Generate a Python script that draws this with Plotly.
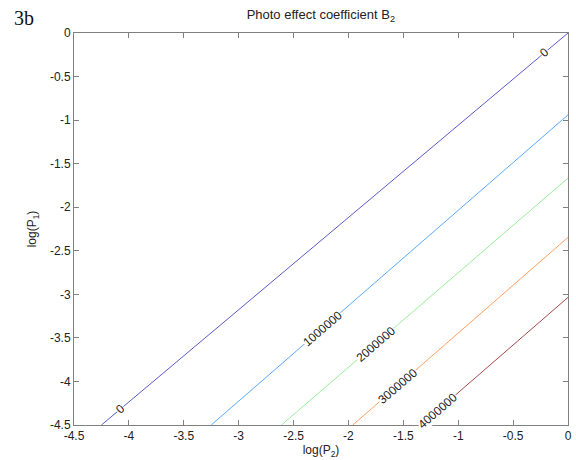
import plotly.graph_objects as go

# Contour levels and where each (straight) contour line meets the plot edges
levels = [0, 1000000, 2000000, 3000000, 4000000]
level_labels = ["0", "1000000", "2000000", "3000000", "4000000"]
x_at_bottom = [-4.25, -3.25, -2.61, -1.96, -1.34]   # x where line meets y = -4.5
y_at_right = [0.0, -0.94, -1.665, -2.346, -3.035]   # y where line meets x = 0
colors = ["#5a5ac8", "#5aaaff", "#99ee99", "#ffa060", "#a84a4a"]

# label positions (x on the contour line)
label_x = [[-4.08, -0.21], [-2.24], [-1.75], [-1.55], [-1.19]]

x_ticks = [-4.5, -4, -3.5, -3, -2.5, -2, -1.5, -1, -0.5, 0]
y_ticks = [0, -0.5, -1, -1.5, -2, -2.5, -3, -3.5, -4, -4.5]

fig = go.Figure()
for lv, xb, yr, c in zip(levels, x_at_bottom, y_at_right, colors):
    fig.add_trace(go.Scatter(x=[xb, 0], y=[-4.5, yr], mode="lines",
                             line=dict(color=c, width=1), showlegend=False,
                             hoverinfo="skip"))

for xs, xb, yr, txt in zip(label_x, x_at_bottom, y_at_right, level_labels):
    slope = (yr + 4.5) / (0 - xb)
    for lx in xs:
        ly = yr + slope * lx
        fig.add_annotation(x=lx, y=ly, text=txt, showarrow=False,
                           textangle=-40.7, bgcolor="white",
                           font=dict(family="Liberation Sans, Arial", size=12, color="#222"),
                           borderpad=0)

axis_common = dict(showline=True, linecolor="#808080", linewidth=1, mirror="ticks",
                   ticks="inside", ticklen=5, tickcolor="#808080",
                   showgrid=False, zeroline=False,
                   tickfont=dict(family="Liberation Sans, Arial", size=12, color="#222"))

fig.update_layout(
    width=576, height=460,
    margin=dict(l=74, r=4, t=33, b=35),
    paper_bgcolor="white", plot_bgcolor="white",
    title=dict(text="Photo effect coefficient B<sub>2</sub>", x=0.557, xanchor="center",
               y=0.968, yanchor="middle",
               font=dict(family="Liberation Sans, Arial", size=13, color="#222")),
    xaxis=dict(range=[-4.5, 0], tickvals=x_ticks, ticktext=[str(v) for v in x_ticks],
               title=dict(text="log(P<sub>2</sub>)", standoff=2,
                          font=dict(family="Liberation Sans, Arial", size=12, color="#222")),
               **axis_common),
    yaxis=dict(range=[-4.5, 0], tickvals=y_ticks, ticktext=[str(v) for v in y_ticks],
               title=dict(text="log(P<sub>1</sub>)", standoff=10,
                          font=dict(family="Liberation Sans, Arial", size=12, color="#222")),
               **axis_common),
)
fig.add_annotation(xref="paper", yref="paper", x=-0.126, y=1.038, xanchor="left",
                   yanchor="middle", text="3b", showarrow=False,
                   font=dict(family="Liberation Serif, Times New Roman", size=20, color="#111"))

fig.write_html("out.html", config={"displayModeBar": False},
               post_script="document.body.style.margin='0';document.body.style.overflow='hidden';")
